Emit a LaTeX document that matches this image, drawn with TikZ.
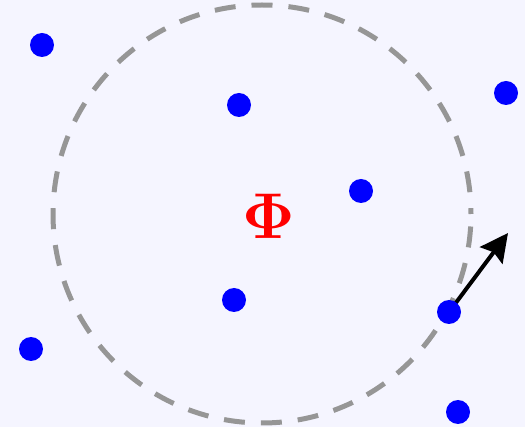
\documentclass[tikz,border=0pt]{standalone}
\usetikzlibrary{arrows.meta}
\definecolor{bgc}{RGB}{245,245,255}
\definecolor{ringc}{RGB}{150,150,150}
\begin{document}
\begin{tikzpicture}[x=1pt,y=-1pt,
  pt/.style={circle,fill=blue,inner sep=0pt,minimum size=24pt},
  ring/.style={draw=ringc,line width=5pt,dash pattern=on 21pt off 16pt,dash phase=24.5pt},
  vel/.style={draw=black,line width=4pt,-{Stealth[length=28pt,width=28pt,inset=4pt]}}]
\fill[bgc] (0,0) rectangle (525,427);
\useasboundingbox (0,0) rectangle (525,427);
\draw[ring] (262,214) circle (209);
\node[pt] (p1) at (42,45) {};
\node[pt] (p2) at (239,105) {};
\node[pt] (p3) at (506,93) {};
\node[pt] (p4) at (361,191) {};
\node[pt] (p5) at (234,300) {};
\node[pt] (p6) at (31,349) {};
\node[pt] (p8) at (458,412) {};
\coordinate (tip) at (508,233);
\draw[vel] (449,312) -- (tip);
\node[pt] (p7) at (449,312) {};
\node[text=red,inner sep=0pt,scale=2.6] (phi) at (269,216) {\Huge$\mathbf{\Phi}$};
\end{tikzpicture}
\end{document}
